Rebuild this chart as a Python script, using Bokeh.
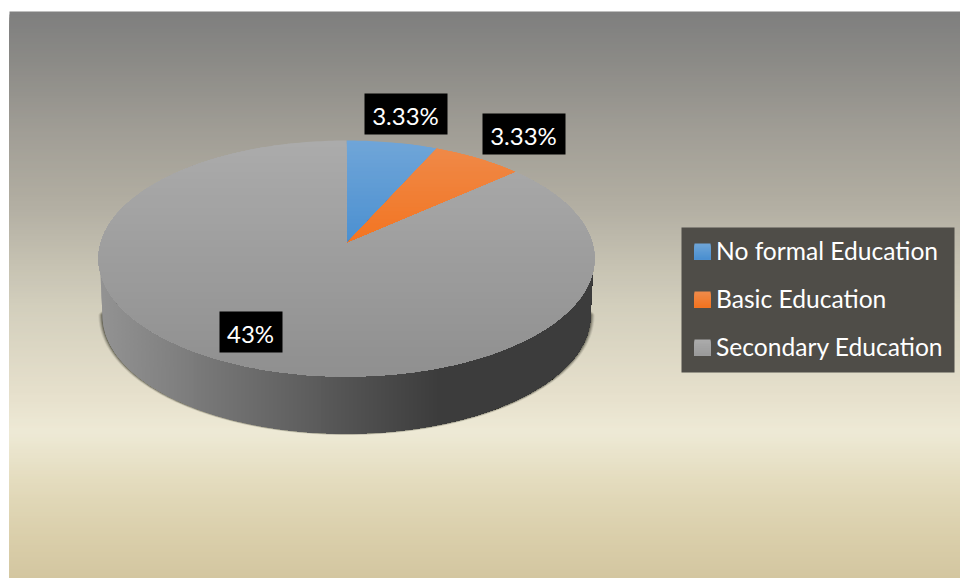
import numpy as np
from bokeh.embed import file_html
from bokeh.models import Range1d
from bokeh.plotting import figure
from bokeh.resources import INLINE
from bokeh.core.properties import value

# chart content
categories = ["No formal Education", "Basic Education", "Secondary Education"]
shares = [3.33, 3.33, 43.0]
share_labels = ["3.33%", "3.33%", "43%"]
slice_tops = ["#6fa5d8", "#ef8a4a", "#ababab"]
slice_bottoms = ["#4a8fd0", "#f37420", "#8f8f8f"]
swatch_bottoms = ["#4a8fd0", "#f37420", "#9a9a9a"]

# page-space layout of the tilted disc
CX, CY, RX, RY = 346.0, 258.0, 248.0, 118.0
TILT = 15.0 / 118.0
DEPTH = 57.0
BASE_RX = 244.0
LABEL_CENTRES = [(405.5, 113.5), (523.5, 133.5), (250.5, 331.5)]
LABEL_SIZES = [(83, 41), (83, 41), (63, 41)]
LEGEND_BOX = (681, 227, 954, 372)
LEGEND_ROWS = [251, 299, 347]

# background stops as (page y, r, g, b)
BG_Y = [11, 60, 130, 200, 300, 395, 430, 480, 530, 578]
BG_R = [127, 140, 161, 178, 210, 231, 238, 228, 219, 211]
BG_G = [127, 139, 158, 174, 206, 225, 234, 220, 208, 198]
BG_B = [127, 135, 150, 162, 188, 205, 214, 190, 172, 160]

p = figure(width=960, height=578, output_backend="svg", toolbar_location=None,
           x_range=Range1d(0, 960), y_range=Range1d(578, 0),
           min_border=0, outline_line_color=None, background_fill_color="white",
           border_fill_color="white")
p.axis.visible = False
p.grid.visible = False


def mix(c0, c1, t):
    a = [int(c0[i:i + 2], 16) for i in (1, 3, 5)]
    b = [int(c1[i:i + 2], 16) for i in (1, 3, 5)]
    return "#%02x%02x%02x" % tuple(int(round(x + (y - x) * t)) for x, y in zip(a, b))


def clip_from(xs, ys, limit, use_x=False):
    """Keep the part of a polygon on the far side of a vertical or horizontal limit."""
    key = np.asarray(xs if use_x else ys)
    xout, yout = [], []
    n = len(xs)
    for i in range(n):
        j = (i + 1) % n
        if key[i] >= limit:
            xout.append(xs[i])
            yout.append(ys[i])
        if (key[i] >= limit) != (key[j] >= limit):
            t = (limit - key[i]) / (key[j] - key[i])
            xout.append(xs[i] + (xs[j] - xs[i]) * t)
            yout.append(ys[i] + (ys[j] - ys[i]) * t)
    return xout, yout


def disc_point(theta):
    """Perspective view of a disc: theta runs clockwise from twelve o'clock."""
    u, v = np.sin(theta), np.cos(theta)
    d = 1 + TILT * v
    return CX + RX * u * np.sqrt(1 - TILT ** 2) / d, CY - RY * (v + TILT) / d


# background, painted as overlapping bands from the top down
ys_band = np.arange(11, 578, 3)
for y in ys_band:
    col = "#%02x%02x%02x" % (int(np.interp(y, BG_Y, BG_R)), int(np.interp(y, BG_Y, BG_G)), int(np.interp(y, BG_Y, BG_B)))
    p.quad(left=9, right=960, top=y, bottom=578, fill_color=col, line_color=None)

# soft shadow hugging the rim's lower edge
t = np.linspace(np.pi / 2, 3 * np.pi / 2, 200)
for grow, alpha in [(4, 0.10), (3, 0.18), (2, 0.28), (1, 0.4), (0, 0.55)]:
    sx = CX + (BASE_RX + grow) * np.sin(t)
    lower = CY + DEPTH - (RY + grow * 0.4) * np.cos(t)
    upper = CY + DEPTH + (22.0 + grow) * np.cos(t)
    p.patch(np.concatenate([sx, sx[::-1]]), np.concatenate([lower, upper[::-1]]),
            fill_color="#3c3c30", fill_alpha=alpha, line_color=None)

# rim, shaded from left to right
rim_x = np.concatenate([CX + (RX - 1) * np.sin(t), (CX + BASE_RX * np.sin(t))[::-1]])
rim_y = np.concatenate([CY - RY * np.cos(t) - 2, (CY + DEPTH - RY * np.cos(t))[::-1]])
rim_x, rim_y = list(rim_x), list(rim_y)
for x0 in np.arange(CX - RX - 1, CX + RX + 1, 4):
    f = (x0 - (CX - RX)) / (2 * RX)
    col = mix("#939393", "#3c3c3c", min(f / 0.68, 1))
    bx, by = clip_from(rim_x, rim_y, x0, use_x=True)
    if bx:
        p.patch(bx, by, fill_color=col, line_color=None)

# top face, each slice shaded from top to bottom
angles = 2 * np.pi * np.array(shares) / sum(shares)
stops = np.concatenate([[0], np.cumsum(angles)])
for i, share in enumerate(shares):
    th = np.linspace(stops[i], stops[i + 1], max(4, int(angles[i] * 60)))
    px, py = disc_point(th)
    xs = [CX] + list(px)
    ys = [CY - RY * TILT] + list(py)
    for y0 in np.arange(CY - RY - 1, CY + RY + 1, 4):
        f = (y0 - (CY - RY)) / (2 * RY)
        bx, by = clip_from(xs, ys, y0)
        if bx:
            frac = min(f / (0.44 if i < 2 else 1.0), 1)
            p.patch(bx, by, fill_color=mix(slice_tops[i], slice_bottoms[i], frac), line_color=None)

# value labels on black plates
for (lx, ly), (w, h), text in zip(LABEL_CENTRES, LABEL_SIZES, share_labels):
    p.rect(x=lx, y=ly, width=w, height=h, fill_color="black", line_color=None)
    p.text(x=[lx - 0.5], y=[ly + 1], text=[text], text_font=value("Lato"), text_font_size="24px",
           text_color="white", text_align="center", text_baseline="middle")

# legend panel
p.quad(left=LEGEND_BOX[0], right=LEGEND_BOX[2], top=LEGEND_BOX[1], bottom=LEGEND_BOX[3],
       fill_color="#4f4d48", line_color=None)
for row, name, c0, c1 in zip(LEGEND_ROWS, categories, slice_tops, swatch_bottoms):
    for k in range(16):
        p.quad(left=694, right=710, top=row - 8 + k, bottom=row + 8,
               fill_color=mix(c0, c1, k / 15), line_color=None)
    p.text(x=[715.5], y=[row - 1.5], text=[name], text_font=value("Lato"), text_font_size="24.6px",
           text_color="white", text_align="left", text_baseline="middle")

with open("out.html", "w") as fh:
    fh.write(file_html(p, INLINE))
